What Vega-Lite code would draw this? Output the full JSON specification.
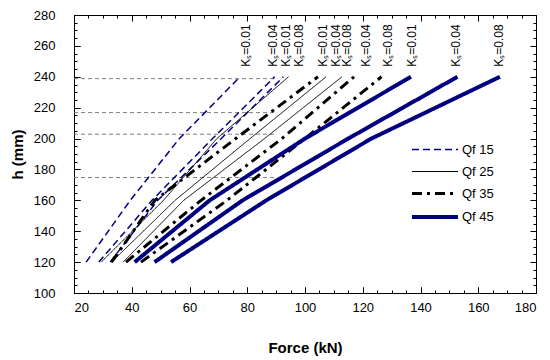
{
  "$schema": "https://vega.github.io/schema/vega-lite/v6.json",
  "width": 462,
  "height": 278,
  "autosize": "none",
  "padding": {"left": 74, "top": 15, "right": 14, "bottom": 67},
  "config": {
    "view": {"stroke": "#000", "strokeWidth": 1},
    "font": "Liberation Sans",
    "axis": {"domain": false, "zindex": 1, "labelFont": "Liberation Sans", "labelFontSize": 13, "labelColor": "#000", "tickColor": "#000", "tickWidth": 1, "gridColor": "#000", "gridOpacity": 1, "gridWidth": 1, "titleFont": "Liberation Sans", "titleFontSize": 15, "titleFontWeight": "bold", "titleColor": "#000"}
  },
  "datasets": {
    "curves": [
      {"Qf": "Qf 15", "Ks": "0.01", "F": 24.2, "h": 120}, {"Qf": "Qf 15", "Ks": "0.01", "F": 39.5, "h": 160}, {"Qf": "Qf 15", "Ks": "0.01", "F": 56.5, "h": 200}, {"Qf": "Qf 15", "Ks": "0.01", "F": 77.5, "h": 240},
      {"Qf": "Qf 15", "Ks": "0.04", "F": 28.6, "h": 120}, {"Qf": "Qf 15", "Ks": "0.04", "F": 47, "h": 160}, {"Qf": "Qf 15", "Ks": "0.04", "F": 68, "h": 200}, {"Qf": "Qf 15", "Ks": "0.04", "F": 89.5, "h": 240},
      {"Qf": "Qf 15", "Ks": "0.08", "F": 32.5, "h": 120}, {"Qf": "Qf 15", "Ks": "0.08", "F": 49, "h": 160}, {"Qf": "Qf 15", "Ks": "0.08", "F": 71, "h": 200}, {"Qf": "Qf 15", "Ks": "0.08", "F": 92.5, "h": 240},
      {"Qf": "Qf 25", "Ks": "0.01", "F": 29.4, "h": 120}, {"Qf": "Qf 25", "Ks": "0.01", "F": 51, "h": 160}, {"Qf": "Qf 25", "Ks": "0.01", "F": 69.5, "h": 200}, {"Qf": "Qf 25", "Ks": "0.01", "F": 94.3, "h": 240},
      {"Qf": "Qf 25", "Ks": "0.04", "F": 33, "h": 120}, {"Qf": "Qf 25", "Ks": "0.04", "F": 55, "h": 160}, {"Qf": "Qf 25", "Ks": "0.04", "F": 81, "h": 200}, {"Qf": "Qf 25", "Ks": "0.04", "F": 107.3, "h": 240},
      {"Qf": "Qf 25", "Ks": "0.08", "F": 37, "h": 120}, {"Qf": "Qf 25", "Ks": "0.08", "F": 58, "h": 160}, {"Qf": "Qf 25", "Ks": "0.08", "F": 86, "h": 200}, {"Qf": "Qf 25", "Ks": "0.08", "F": 112.8, "h": 240},
      {"Qf": "Qf 35", "Ks": "0.01", "F": 33, "h": 120}, {"Qf": "Qf 35", "Ks": "0.01", "F": 48, "h": 160}, {"Qf": "Qf 35", "Ks": "0.01", "F": 76, "h": 200}, {"Qf": "Qf 35", "Ks": "0.01", "F": 104.5, "h": 240},
      {"Qf": "Qf 35", "Ks": "0.04", "F": 38, "h": 120}, {"Qf": "Qf 35", "Ks": "0.04", "F": 64, "h": 160}, {"Qf": "Qf 35", "Ks": "0.04", "F": 92, "h": 200}, {"Qf": "Qf 35", "Ks": "0.04", "F": 117, "h": 240},
      {"Qf": "Qf 35", "Ks": "0.08", "F": 43.2, "h": 120}, {"Qf": "Qf 35", "Ks": "0.08", "F": 73, "h": 160}, {"Qf": "Qf 35", "Ks": "0.08", "F": 100, "h": 200}, {"Qf": "Qf 35", "Ks": "0.08", "F": 126.5, "h": 240},
      {"Qf": "Qf 45", "Ks": "0.01", "F": 41, "h": 120}, {"Qf": "Qf 45", "Ks": "0.01", "F": 67, "h": 160}, {"Qf": "Qf 45", "Ks": "0.01", "F": 100, "h": 200}, {"Qf": "Qf 45", "Ks": "0.01", "F": 136.7, "h": 240},
      {"Qf": "Qf 45", "Ks": "0.04", "F": 47.9, "h": 120}, {"Qf": "Qf 45", "Ks": "0.04", "F": 78.4, "h": 160}, {"Qf": "Qf 45", "Ks": "0.04", "F": 115, "h": 200}, {"Qf": "Qf 45", "Ks": "0.04", "F": 152.8, "h": 240},
      {"Qf": "Qf 45", "Ks": "0.08", "F": 53.6, "h": 120}, {"Qf": "Qf 45", "Ks": "0.08", "F": 86.6, "h": 160}, {"Qf": "Qf 45", "Ks": "0.08", "F": 123, "h": 200}, {"Qf": "Qf 45", "Ks": "0.08", "F": 167.5, "h": 240}
    ],
    "labels": [
      {"F": 79.6, "t": "Kₛ=0.01"}, {"F": 88.8, "t": "Kₛ=0.04"}, {"F": 93.4, "t": "Kₛ=0.01"}, {"F": 98, "t": "Kₛ=0.08"},
      {"F": 106.1, "t": "Kₛ=0.01"}, {"F": 110.7, "t": "Kₛ=0.04"}, {"F": 114.7, "t": "Kₛ=0.08"}, {"F": 121.1, "t": "Kₛ=0.04"},
      {"F": 128.6, "t": "Kₛ=0.08"}, {"F": 137.2, "t": "Kₛ=0.01"}, {"F": 152.2, "t": "Kₛ=0.04"}, {"F": 167.2, "t": "Kₛ=0.08"}
    ],
    "refs": [{"h": 238.8}, {"h": 216.8}, {"h": 202.8}, {"h": 174.8}]
  },
  "resolve": {"axis": {"x": "independent", "y": "independent"}},
  "layer": [
    {
      "data": {"name": "refs"},
      "mark": {"type": "rule", "color": "#808080", "strokeWidth": 1, "strokeDash": [4, 3]},
      "encoding": {
        "y": {"field": "h", "type": "quantitative", "scale": {"domain": [100, 280], "zero": false},
          "axis": {"orient": "left", "values": [100,105,110,115,120,125,130,135,140,145,150,155,160,165,170,175,180,185,190,195,200,205,210,215,220,225,230,235,240,245,250,255,260,265,270,275,280], "labels": false, "title": null, "ticks": false, "grid": true, "gridDash": [3, 456]}},
        "x": {"datum": 20, "type": "quantitative", "scale": {"domain": [20, 180], "zero": false},
          "axis": {"orient": "bottom", "values": [20,25,30,35,40,45,50,55,60,65,70,75,80,85,90,95,100,105,110,115,120,125,130,135,140,145,150,155,160,165,170,175,180], "labels": false, "title": null, "ticks": false, "grid": true, "gridDash": [3, 272]}},
        "x2": {"datum": 90}
      }
    },
    {
      "mark": {"type": "rule", "color": "#808080", "strokeWidth": 1, "strokeDash": [4, 3]},
      "encoding": {
        "x": {"datum": 90, "type": "quantitative", "scale": {"domain": [20, 180], "zero": false},
          "axis": {"orient": "top", "values": [20,40,60,80,100,120,140,160,180], "labels": false, "title": null, "ticks": false, "grid": true, "gridDash": [6, 266]}},
        "y": {"datum": 100, "type": "quantitative", "scale": {"domain": [100, 280], "zero": false},
          "axis": {"orient": "right", "values": [100,120,140,160,180,200,220,240,260,280], "labels": false, "title": null, "ticks": false, "grid": true, "gridDash": [6, 450]}},
        "y2": {"datum": 238.8}
      }
    },
    {
      "data": {"name": "curves"},
      "mark": {"type": "line"},
      "encoding": {
        "x": {"field": "F", "type": "quantitative", "scale": {"domain": [20, 180], "zero": false},
          "axis": {"orient": "bottom", "title": "Force (kN)", "values": [20,40,60,80,100,120,140,160,180], "grid": false, "ticks": true, "tickSize": 6, "offset": -6, "labelPadding": 8, "titlePadding": 26}},
        "y": {"field": "h", "type": "quantitative", "scale": {"domain": [100, 280], "zero": false},
          "axis": {"orient": "left", "title": "h (mm)", "values": [100,120,140,160,180,200,220,240,260,280], "grid": false, "ticks": true, "tickSize": 6, "offset": -6, "labelPadding": 19, "titlePadding": 8}},
        "color": {"field": "Qf", "type": "nominal", "scale": {"domain": ["Qf 15", "Qf 25", "Qf 35", "Qf 45"], "range": ["#000080", "#000000", "#000000", "#000080"]},
          "legend": {"orient": "none", "legendX": 354, "legendY": 128, "padding": 0, "title": null, "symbolType": "M-4.6,0L4.6,0", "symbolSize": 100, "labelFontSize": 13, "labelFont": "Liberation Sans", "labelColor": "#000", "labelOffset": 20, "rowPadding": 8}},
        "strokeDash": {"field": "Qf", "type": "nominal", "scale": {"domain": ["Qf 15", "Qf 25", "Qf 35", "Qf 45"], "range": [[7, 4], [1, 0], [10, 5, 3, 5], [1, 0]]}},
        "strokeWidth": {"field": "Qf", "type": "nominal", "scale": {"type": "ordinal", "domain": ["Qf 15", "Qf 25", "Qf 35", "Qf 45"], "range": [1.5, 1, 3, 4]}},
        "detail": {"field": "Ks", "type": "nominal"},
        "order": {"field": "h", "type": "quantitative"}
      }
    },
    {
      "data": {"name": "labels"},
      "mark": {"type": "text", "angle": 270, "align": "left", "baseline": "middle", "dx": 10, "fontSize": 12, "font": "Liberation Sans", "color": "#000"},
      "encoding": {
        "x": {"field": "F", "type": "quantitative", "scale": {"domain": [20, 180], "zero": false}, "axis": null},
        "y": {"datum": 240, "type": "quantitative", "scale": {"domain": [100, 280], "zero": false}, "axis": null},
        "text": {"field": "t"}
      }
    },
    {
      "mark": {"type": "text", "align": "left", "baseline": "middle", "fontSize": 12, "fontStyle": "italic", "font": "Liberation Sans", "color": "#000"},
      "encoding": {
        "x": {"datum": 128.8, "type": "quantitative", "scale": {"domain": [20, 180], "zero": false}, "axis": null},
        "y": {"datum": 136.2, "type": "quantitative", "scale": {"domain": [100, 280], "zero": false}, "axis": null},
        "text": {"value": "Dramix RC-65/60-BN"}
      }
    },
    {
      "mark": {"type": "text", "align": "left", "baseline": "middle", "fontSize": 12, "fontStyle": "italic", "font": "Liberation Sans", "color": "#000"},
      "encoding": {
        "x": {"datum": 128.8, "type": "quantitative", "scale": {"domain": [20, 180], "zero": false}, "axis": null},
        "y": {"datum": 123.3, "type": "quantitative", "scale": {"domain": [100, 280], "zero": false}, "axis": null},
        "text": {"value": "w=0.3 mm"}
      }
    },
    {
      "mark": {"type": "text", "align": "left", "baseline": "middle", "fontSize": 12, "fontStyle": "italic", "font": "Liberation Sans", "color": "#000"},
      "encoding": {
        "x": {"datum": 128.8, "type": "quantitative", "scale": {"domain": [20, 180], "zero": false}, "axis": null},
        "y": {"datum": 110.3, "type": "quantitative", "scale": {"domain": [100, 280], "zero": false}, "axis": null},
        "text": {"value": "f"}
      }
    },
    {
      "mark": {"type": "text", "align": "left", "baseline": "middle", "fontSize": 9, "fontStyle": "italic", "font": "Liberation Sans", "color": "#000", "dx": 4, "dy": 3},
      "encoding": {
        "x": {"datum": 128.8, "type": "quantitative", "scale": {"domain": [20, 180], "zero": false}, "axis": null},
        "y": {"datum": 110.3, "type": "quantitative", "scale": {"domain": [100, 280], "zero": false}, "axis": null},
        "text": {"value": "cm"}
      }
    },
    {
      "mark": {"type": "text", "align": "left", "baseline": "middle", "fontSize": 12, "fontStyle": "italic", "font": "Liberation Sans", "color": "#000", "dx": 16},
      "encoding": {
        "x": {"datum": 128.8, "type": "quantitative", "scale": {"domain": [20, 180], "zero": false}, "axis": null},
        "y": {"datum": 110.3, "type": "quantitative", "scale": {"domain": [100, 280], "zero": false}, "axis": null},
        "text": {"value": "=38 MPa"}
      }
    }
  ]
}
